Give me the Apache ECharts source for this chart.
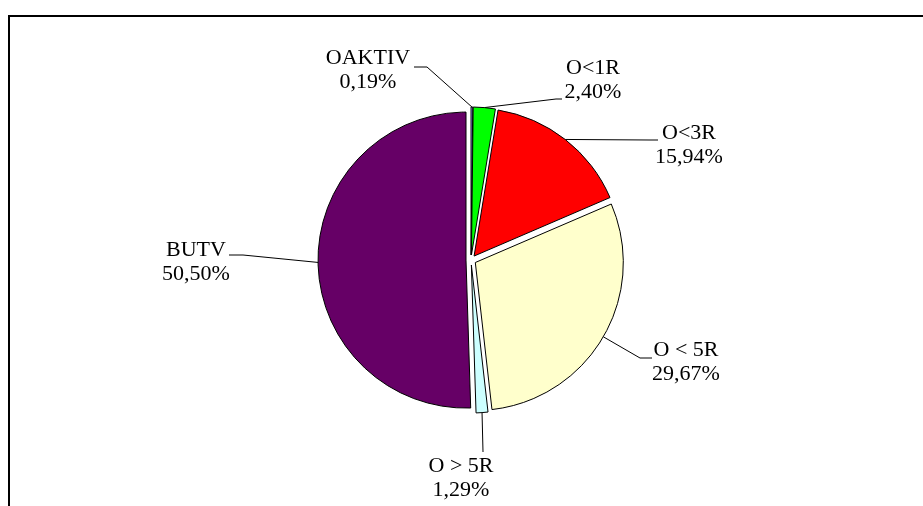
<!DOCTYPE html>
<html>
<head>
<meta charset="utf-8">
<script src="https://cdn.jsdelivr.net/npm/echarts@6/dist/echarts.min.js"></script>
<style>
  html, body { margin: 0; padding: 0; background: #fff; }
  #chart { width: 923px; height: 506px; }
</style>
</head>
<body>
<div id="chart"></div>
<script>
// Slice data (percent)
const names = ['OAKTIV', 'O<1R', 'O<3R', 'O < 5R', 'O > 5R', 'BUTV'];
const values = [0.19, 2.40, 15.94, 29.67, 1.29, 50.50];
const colors = ['#9999FF', '#00FF00', '#FF0000', '#FFFFCC', '#CCFFFF', '#660066'];

// Label block centres and leader line bends (px)
const labelPos = [[368, 70], [593, 80], [689, 145], [686, 362], [461, 478], [196, 262]];
const bends = [
    [[427, 67], [414, 67]],
    [[556, 99], [562, 99]],
    [[650, 140], [658, 140]],
    [[640, 358], [652, 358]],
    [[483, 452], [483, 452]],
    [[243, 255], [229, 255]]
];

const cx = 471, cy = 260, radius = 148, explode = 5;

const total = values.reduce((a, b) => a + b, 0);
let cum = 0;
const midAngles = values.map(v => {
    const m = (cum + v / 2) / total * 2 * Math.PI;
    cum += v;
    return m;
});

const chartDom = document.getElementById('chart');
const myChart = echarts.init(chartDom);

// one pie series per slice so every slice can be pulled out along its own mid angle
const series = names.map((name, k) => {
    const a = midAngles[k];
    const c = [cx + explode * Math.sin(a), cy - explode * Math.cos(a)];
    return {
        type: 'pie',
        silent: true,
        center: c,
        radius: radius,
        startAngle: 90,
        clockwise: true,
        avoidLabelOverlap: false,
        label: {
            show: true,
            formatter: p => p.name + '\n' + p.value.toFixed(2).replace('.', ',') + '%',
            fontFamily: 'Liberation Serif',
            fontSize: 22,
            lineHeight: 24,
            color: '#000'
        },
        labelLine: { show: true, lineStyle: { color: '#000', width: 1 } },
        labelLayout: function (p) {
            if (p.dataIndex !== k) return {};
            const start = [c[0] + radius * Math.sin(a), c[1] - radius * Math.cos(a)];
            return {
                x: labelPos[k][0],
                y: labelPos[k][1],
                align: 'center',
                verticalAlign: 'middle',
                labelLinePoints: [start].concat(bends[k])
            };
        },
        emphasis: { disabled: true },
        data: names.map((n, i) => i === k ? {
            name: n,
            value: values[i],
            itemStyle: { color: colors[i], borderColor: '#000', borderWidth: 1 }
        } : {
            name: n,
            value: values[i],
            itemStyle: { color: 'rgba(0,0,0,0)', borderWidth: 0 },
            label: { show: false },
            labelLine: { show: false }
        })
    };
});

const option = {
    animation: false,
    graphic: [{
        type: 'rect',
        silent: true,
        shape: { x: 9, y: 16, width: 1000, height: 1000 },
        style: { fill: 'none', stroke: '#000', lineWidth: 2 }
    }],
    series: series
};

myChart.setOption(option);
</script>
</body>
</html>
